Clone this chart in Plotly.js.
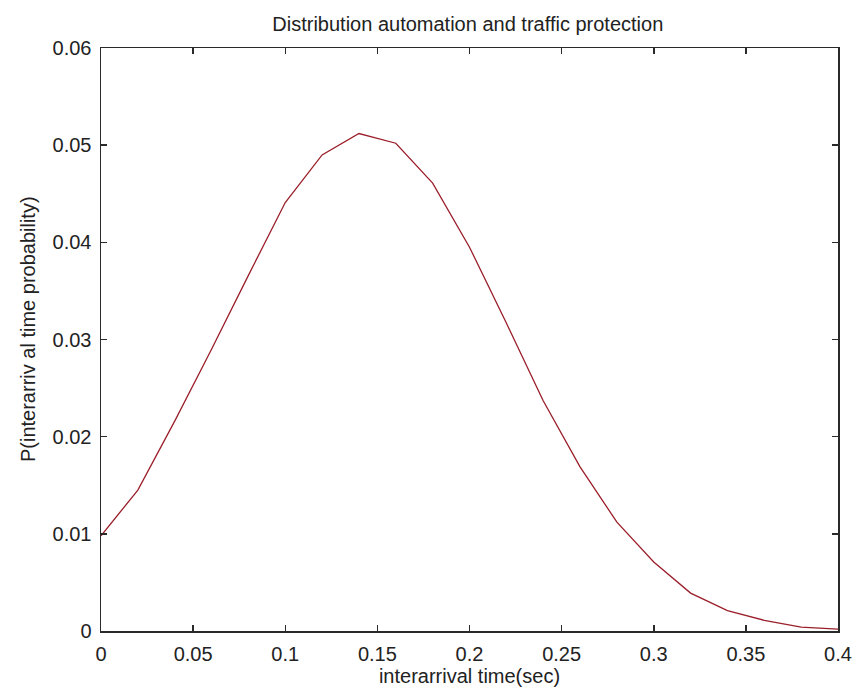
<!DOCTYPE html>
<html>
<head>
<meta charset="utf-8">
<script src="https://cdn.plot.ly/plotly-3.0.1.min.js"></script>
<style>
  html, body { margin: 0; padding: 0; background: #ffffff; }
  #chart { width: 856px; height: 694px; }
</style>
</head>
<body>
<div id="chart"></div>
<script>
// Interarrival time samples (seconds) and their probabilities
const interarrivalTime = [0, 0.02, 0.04, 0.06, 0.08, 0.10, 0.12, 0.14, 0.16, 0.18, 0.20,
                          0.22, 0.24, 0.26, 0.28, 0.30, 0.32, 0.34, 0.36, 0.38, 0.40];
const probability = [0.0098, 0.0145, 0.0216, 0.0290, 0.0366, 0.0441, 0.0490, 0.0512, 0.0502, 0.0461, 0.0395,
                     0.0317, 0.0237, 0.0169, 0.0112, 0.0071, 0.0039, 0.0021, 0.0011, 0.0004, 0.0002];

const xTicks = [0, 0.05, 0.1, 0.15, 0.2, 0.25, 0.3, 0.35, 0.4];
const xTickText = ['0', '0.05', '0.1', '0.15', '0.2', '0.25', '0.3', '0.35', '0.4'];
const yTicks = [0, 0.01, 0.02, 0.03, 0.04, 0.05, 0.06];
const yTickText = ['0', '0.01', '0.02', '0.03', '0.04', '0.05', '0.06'];

const font = 'Liberation Sans, Arial, Helvetica, sans-serif';

const trace = {
  x: interarrivalTime,
  y: probability,
  type: 'scatter',
  mode: 'lines',
  line: { color: '#9a1f2a', width: 1.3 },
  hoverinfo: 'x+y'
};

const axisCommon = {
  showgrid: false,
  zeroline: false,
  showline: true,
  linecolor: '#2a2a2a',
  linewidth: 1.5,
  mirror: 'ticks',
  ticks: 'inside',
  ticklen: 6,
  tickwidth: 1.5,
  tickcolor: '#2a2a2a',
  tickfont: { family: font, size: 20, color: '#222222' },
  tickmode: 'array',
  automargin: false
};

const layout = {
  width: 856,
  height: 694,
  margin: { l: 101, r: 18, t: 48, b: 63 },
  paper_bgcolor: '#ffffff',
  plot_bgcolor: '#ffffff',
  showlegend: false,
  title: {
    text: 'Distribution automation and traffic protection',
    font: { family: font, size: 20, color: '#222222' },
    x: 0.5465,
    xanchor: 'center',
    y: 0.965,
    yanchor: 'middle'
  },
  xaxis: Object.assign({}, axisCommon, {
    range: [0, 0.4],
    tickvals: xTicks,
    ticktext: xTickText,
    ticklabelstandoff: 4,
    title: {
      text: 'interarrival time(sec)',
      font: { family: font, size: 20, color: '#222222' },
      standoff: 5
    }
  }),
  yaxis: Object.assign({}, axisCommon, {
    range: [0, 0.06],
    tickvals: yTicks,
    ticktext: yTickText,
    ticklabelstandoff: 4
  }),
  // vertical y-axis caption, placed as a rotated annotation
  annotations: [{
    text: 'P(interarriv al time probability)',
    textangle: -90,
    xref: 'paper',
    yref: 'paper',
    x: -0.099,
    y: 0.518,
    xanchor: 'center',
    yanchor: 'middle',
    showarrow: false,
    font: { family: font, size: 20, color: '#222222' }
  }]
};

Plotly.newPlot('chart', [trace], layout, { displayModeBar: false, staticPlot: true });
</script>
</body>
</html>
